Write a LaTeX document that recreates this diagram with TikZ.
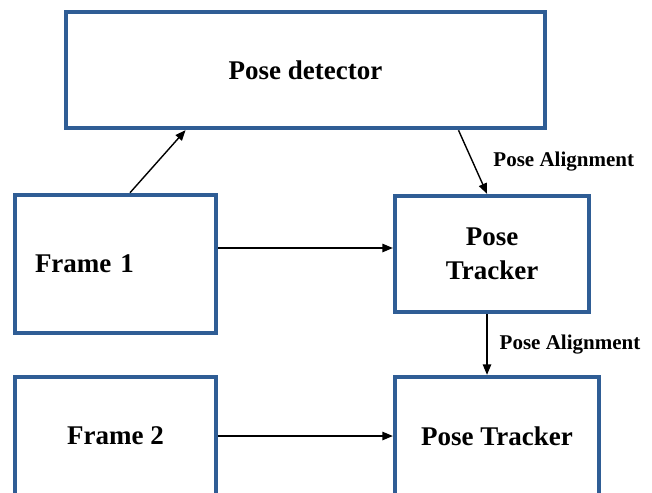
\documentclass[tikz,border=0pt]{standalone}
\usepackage{fontspec}
\setmainfont{Liberation Serif}
\usetikzlibrary{arrows,positioning}
\tikzset{arrows={-triangle 45}}
\definecolor{boxblue}{HTML}{2F5D95}
\tikzset{
  block/.style={draw=boxblue, line width=4.5pt, inner sep=0pt, align=center,
    font=\fontsize{27}{34}\selectfont\bfseries},
  lbl/.style={font=\fontsize{21}{24}\selectfont\bfseries, inner sep=0pt}
}

\begin{document}
\begin{tikzpicture}[x=1pt, y=-1pt, line width=1.4pt]
    \useasboundingbox (0,0) rectangle (652,492);
    \node[block, minimum width=479pt, minimum height=116pt] (detector) at (305.5,70) {Pose detector};
    \node[block, minimum width=201pt, minimum height=138pt, text width=161pt, align=left] (frameone) at (115.5,264) {Frame 1};
    \node[block, minimum width=201pt, minimum height=118pt, node distance=172pt] (frametwo) [below of=frameone] {Frame 2};
    \node[block, minimum width=204pt, minimum height=118pt, node distance=381.5pt] (tracktwo) [right of=frametwo] {Pose Tracker};
    \node[block, minimum width=194pt, minimum height=116pt, node distance=182pt, xshift=-5pt] (trackone) [above of=tracktwo] {Pose\\Tracker};
    \path ([xshift=14.5pt]frameone.north) edge ([xshift=-120pt]detector.south)
          ([xshift=153pt]detector.south) edge node[lbl, right=20pt] (alignone) {Pose Alignment} ([xshift=-5pt]trackone.north)
          ([yshift=16pt]frameone.east) edge ([yshift=6pt]trackone.west)
          ([xshift=-5pt]trackone.south) edge node[lbl, right=12pt] (aligntwo) {Pose Alignment} ([xshift=-10pt]tracktwo.north)
          (frametwo.east) edge (tracktwo.west);
\end{tikzpicture}
\end{document}
